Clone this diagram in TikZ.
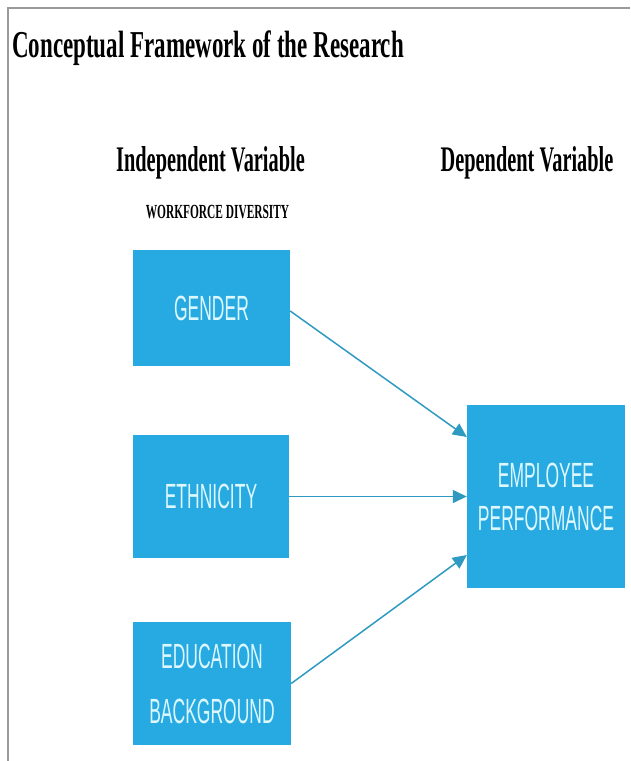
\documentclass[tikz,border=0pt]{standalone}
\usepackage{fontspec}
\usetikzlibrary{arrows.meta}
\newfontfamily\titlefont[FakeStretch=0.605]{Liberation Serif}
\newfontfamily\headfont[FakeStretch=0.565]{Liberation Serif}
\newfontfamily\smallfont[FakeStretch=0.57]{Liberation Serif}
\newfontfamily\boxfont[FakeStretch=0.5]{Liberation Sans}
\definecolor{boxblue}{HTML}{27AAE1}
\definecolor{boxtext}{HTML}{DDF7FF}
\definecolor{arrowblue}{HTML}{2E9AC2}
\definecolor{framegray}{HTML}{9A9A9A}
\tikzset{
  varbox/.style={fill=boxblue, draw=none, inner sep=0pt, text=boxtext, align=center,
    font=\boxfont\fontsize{35}{43}\selectfont},
  link/.style={draw=arrowblue, line width=1.5pt, -{Triangle[length=14pt,width=13pt]}},
  heading/.style={font=\headfont\bfseries\fontsize{36}{40}\selectfont, anchor=base, inner sep=0pt}
}
\begin{document}
\begin{tikzpicture}[x=1pt,y=-1pt]
\useasboundingbox (0,0) rectangle (630,761);
\draw[framegray, line width=2pt] (8,761) -- (8,8) -- (630,8);
\node[anchor=base west, inner sep=0pt, font=\titlefont\bfseries\fontsize{38}{40}\selectfont] (title) at (12,57) {Conceptual Framework of the Research};
\node[heading] (indep) at (210.5,171) {Independent Variable};
\node[heading] (dep) at (527,171) {Dependent Variable};
\node[anchor=base, inner sep=0pt, font=\smallfont\bfseries\fontsize{20}{22}\selectfont] (wd) at (217.5,218) {WORKFORCE DIVERSITY};
\node[varbox, minimum width=157pt, minimum height=116pt] (gender) at (211.5,308) {GENDER};
\node[varbox, minimum width=156pt, minimum height=123pt] (eth) at (211,496.5) {ETHNICITY};
\node[varbox, minimum width=158pt, minimum height=123pt, font=\boxfont\fontsize{35}{55}\selectfont] (edu) at (212,683.5) {EDUCATION\\BACKGROUND};
\node[varbox, minimum width=158pt, minimum height=183pt] (emp) at (546,496.5) {EMPLOYEE\\PERFORMANCE};
\draw[link] ([yshift=-3pt]gender.east) -- ([yshift=59.5pt]emp.west);
\draw[link] (eth.east) -- (emp.west);
\draw[link] (edu.east) -- ([yshift=-58.5pt]emp.west);
\end{tikzpicture}
\end{document}
